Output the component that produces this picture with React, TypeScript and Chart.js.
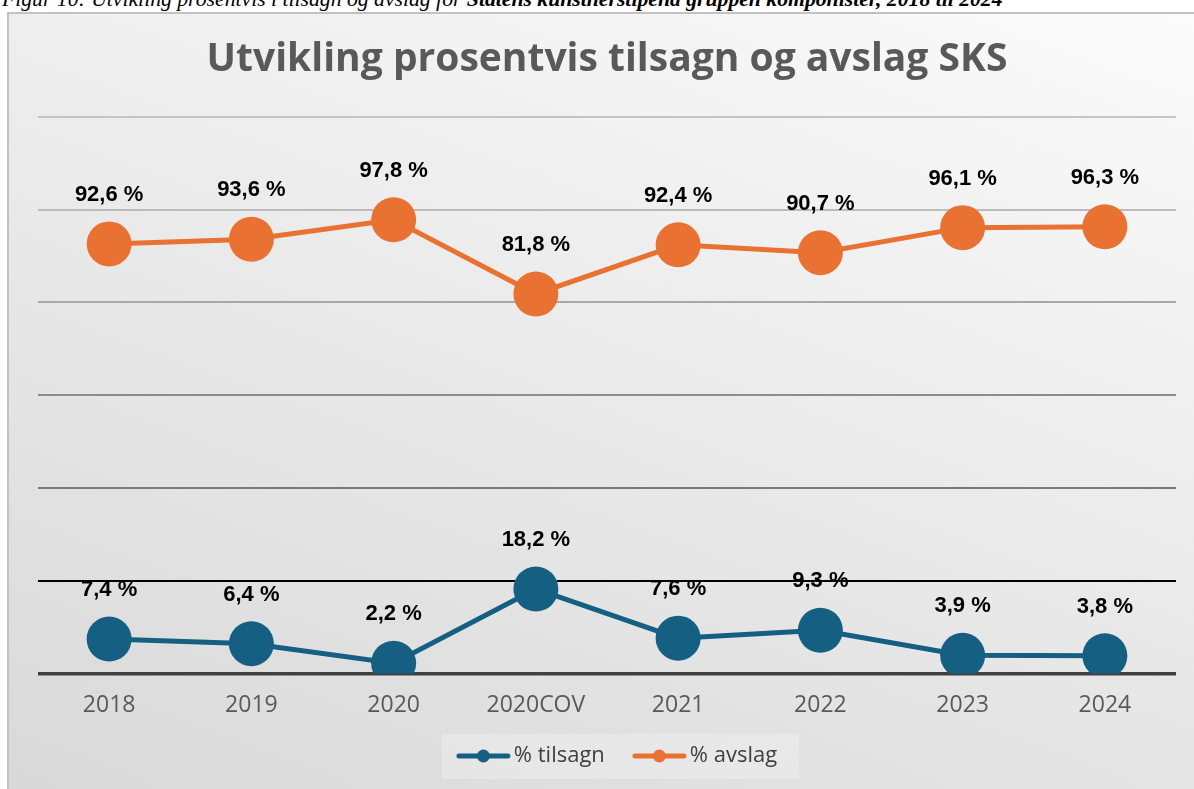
import React, { useEffect, useRef } from "react";
import { Chart, registerables } from "chart.js";

Chart.register(...registerables);

const categories = ["2018", "2019", "2020", "2020COV", "2021", "2022", "2023", "2024"];
const tilsagn = [7.4, 6.4, 2.2, 18.2, 7.6, 9.3, 3.9, 3.8];
const avslag = [92.6, 93.6, 97.8, 81.8, 92.4, 90.7, 96.1, 96.3];
const yTicks = [0, 20, 40, 60, 80, 100, 120];
const gridColors: Record<number, string> = {
  0: "#404040",
  20: "#000000",
  40: "#7a7a7a",
  60: "#8c8c8c",
  80: "#a8a8a8",
  100: "#bcbcbc",
  120: "#c4c4c4",
};

const BLUE = "#156082";
const ORANGE = "#E97132";
const FONT = "'Open Sans', 'Noto Sans', sans-serif";
const LABEL_FONT = "'Liberation Sans', Arial, sans-serif";

// legend icon: line with a dot, drawn right-shifted inside a wider transparent canvas
function legendIcon(color: string): HTMLCanvasElement {
  const c = document.createElement("canvas");
  c.width = 100;
  c.height = 16;
  const ctx = c.getContext("2d")!;
  const o = 36;
  ctx.strokeStyle = color;
  ctx.lineWidth = 5;
  ctx.lineCap = "round";
  ctx.beginPath();
  ctx.moveTo(o + 3, 8);
  ctx.lineTo(o + 52, 8);
  ctx.stroke();
  ctx.fillStyle = color;
  ctx.beginPath();
  ctx.arc(o + 27.5, 8, 6.5, 0, Math.PI * 2);
  ctx.fill();
  return c;
}

const fmt = (v: number) => v.toFixed(1).replace(".", ",") + " %";

const labelPlugin = {
  id: "pointLabels",
  afterDatasetsDraw(chart: any) {
    const ctx = chart.ctx;
    ctx.save();
    ctx.font = `bold 22px ${LABEL_FONT}`;
    ctx.fillStyle = "#000";
    ctx.textAlign = "center";
    ctx.textBaseline = "middle";
    chart.data.datasets.forEach((ds: any, i: number) => {
      const meta = chart.getDatasetMeta(i);
      meta.data.forEach((pt: any, j: number) => {
        ctx.fillText(fmt(ds.data[j]), pt.x, pt.y - 49);
      });
    });
    ctx.restore();
  },
};

const legendBgPlugin = {
  id: "legendBg",
  beforeDraw(chart: any) {
    const lg = chart.legend;
    if (!lg || !lg.legendHitBoxes || !lg.legendHitBoxes.length) return;
    const boxes = lg.legendHitBoxes;
    const l = boxes[0].left + 12;
    const last = boxes[boxes.length - 1];
    const r = last.left + last.width;
    const cy = boxes[0].top + boxes[0].height / 2;
    const ctx = chart.ctx;
    ctx.save();
    ctx.fillStyle = "rgba(255,255,255,0.25)";
    ctx.fillRect(l - 7, cy - 22, r - l + 29, 45);
    ctx.restore();
  },
};

export default function App() {
  const ref = useRef<HTMLCanvasElement | null>(null);
  useEffect(() => {
    if (!ref.current) return;
    const chart = new Chart(ref.current, {
      type: "line",
      data: {
        labels: categories,
        datasets: [
          {
            label: "% tilsagn",
            data: tilsagn,
            borderColor: BLUE,
            backgroundColor: BLUE,
            borderWidth: 5,
            pointRadius: 22.5,
            pointBorderWidth: 0,
            pointBackgroundColor: BLUE,
            pointStyle: "circle",
          },
          {
            label: "% avslag",
            data: avslag,
            borderColor: ORANGE,
            backgroundColor: ORANGE,
            borderWidth: 5,
            pointRadius: 22.5,
            pointBorderWidth: 0,
            pointBackgroundColor: ORANGE,
            pointStyle: "circle",
          },
        ],
      },
      options: {
        animation: false,
        responsive: false,
        maintainAspectRatio: false,
        layout: { padding: { left: 38, right: 24, top: 0, bottom: 12 } },
        scales: {
          x: {
            offset: true,
            grid: { display: false, drawTicks: false },
            border: { display: false },
            ticks: { color: "#595959", font: { family: FONT, size: 23 }, padding: 18 },
          },
          y: {
            min: 0,
            max: 120,
            afterBuildTicks(axis: any) {
              axis.ticks = yTicks.map((v) => ({ value: v }));
            },
            grid: {
              drawTicks: false,
              color: (c: any) => gridColors[c.tick?.value] ?? "#bbb",
              lineWidth: (c: any) => (c.tick?.value === 0 ? 3.5 : 2),
            },
            border: { display: false },
            ticks: { display: false },
          },
        },
        plugins: {
          title: {
            display: true,
            text: "Utvikling prosentvis tilsagn og avslag SKS",
            color: "#595959",
            font: { family: FONT, size: 39, weight: "bold" },
            padding: { top: 36, bottom: 34 },
          },
          legend: {
            position: "bottom",
            labels: {
              usePointStyle: true,
              pointStyleWidth: 66,
              color: "#404040",
              font: { family: FONT, size: 22 },
              padding: 8,
              generateLabels(chart: any) {
                return chart.data.datasets.map((ds: any, i: number) => ({
                  text: ds.label,
                  pointStyle: legendIcon(ds.borderColor),
                  fillStyle: ds.borderColor,
                  strokeStyle: ds.borderColor,
                  lineWidth: 0,
                  fontColor: "#404040",
                  datasetIndex: i,
                  hidden: false,
                }));
              },
            },
          },
          tooltip: { enabled: false },
        },
      },
      plugins: [labelPlugin, legendBgPlugin],
    });
    return () => chart.destroy();
  }, []);

  return (
    <div
      style={{
        position: "fixed",
        left: 0,
        top: 0,
        width: 1194,
        height: 789,
        background: "#fff",
        overflow: "hidden",
      }}
    >
      <div
        style={{
          position: "absolute",
          left: 7,
          top: 12,
          width: 1200,
          height: 800,
          border: "2px solid #c2c2c2",
          background: "linear-gradient(200deg, #fbfbfb 0%, #ebebeb 45%, #d8d8d8 100%)",
        }}
      />
      <div
        style={{
          position: "absolute",
          left: 2,
          top: -12,
          whiteSpace: "nowrap",
          fontFamily: "'Liberation Serif', 'Times New Roman', serif",
          fontStyle: "italic",
          fontSize: 21.7,
          lineHeight: "22px",
          color: "#000",
        }}
      >
        Figur 10: Utvikling prosentvis i tilsagn og avslag for{" "}
        <b>Statens kunstnerstipend gruppen komponister, 2018 til 2024</b>
      </div>
      <canvas
        ref={ref}
        width={1200}
        height={789}
        style={{ position: "absolute", left: 0, top: 0, width: 1200, height: 789 }}
      />
    </div>
  );
}
